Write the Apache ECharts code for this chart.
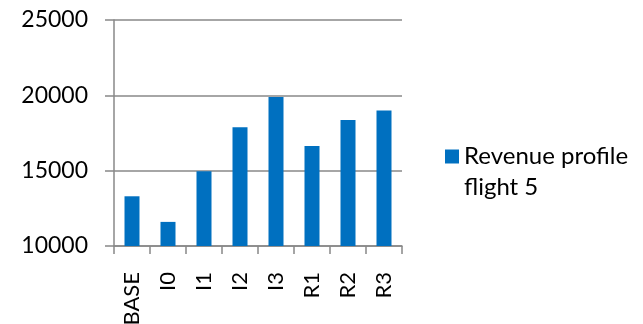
<!DOCTYPE html>
<html>
<head>
<meta charset="utf-8">
<script src="https://cdn.jsdelivr.net/npm/echarts@6/dist/echarts.min.js"></script>
<style>
  html, body { margin: 0; padding: 0; background: #fff; }
  #chart { width: 643px; height: 324px; }
</style>
</head>
<body>
<div id="chart"></div>
<script>
// Revenue per scenario for flight 5
const categories = ['BASE', 'I0', 'I1', 'I2', 'I3', 'R1', 'R2', 'R3'];
const revenue = [13300, 11600, 14960, 17880, 19890, 16640, 18370, 18990];
const seriesName = 'Revenue profile flight 5';
const yMin = 10000, yMax = 25000, yStep = 5000;

const FONT = 'Lato, "Open Sans", sans-serif';
const GRAY = '#888888';

const chart = echarts.init(document.getElementById('chart'), null, { renderer: 'canvas' });
chart.setOption({
  animation: false,
  backgroundColor: '#ffffff',
  grid: { left: 114, right: 241, top: 20, bottom: 78, containLabel: false, outerBoundsMode: 'none' },
  legend: {
    left: 445,
    top: 110,
    padding: 0,
    itemWidth: 14,
    itemHeight: 14,
    itemGap: 7,
    icon: 'rect',
    data: [seriesName],
    // a blank first line keeps the square level with "Revenue profile"
    formatter: () => '\nRevenue profile\nflight 5',
    textStyle: {
      fontFamily: FONT,
      fontSize: 24,
      color: '#000',
      lineHeight: 31
    }
  },
  xAxis: {
    type: 'category',
    data: categories,
    axisLine: { lineStyle: { color: GRAY, width: 1.5 } },
    axisTick: { show: true, length: 8, inside: false, lineStyle: { color: GRAY, width: 1.5 } },
    axisLabel: {
      rotate: 90,
      margin: 26,
      fontFamily: FONT,
      fontSize: 22,
      color: '#000'
    },
    splitLine: { show: false }
  },
  yAxis: {
    type: 'value',
    min: yMin,
    max: yMax,
    interval: yStep,
    axisLine: { show: true, lineStyle: { color: GRAY, width: 1.5 } },
    axisTick: { show: true, length: 9, lineStyle: { color: GRAY, width: 1.5 } },
    axisLabel: {
      margin: 26,
      fontFamily: FONT,
      fontSize: 23,
      color: '#000',
      formatter: (v) => String(v)
    },
    splitLine: { show: true, lineStyle: { color: GRAY, width: 1.5 } }
  },
  series: [{
    name: seriesName,
    type: 'bar',
    data: revenue,
    barWidth: 15,
    itemStyle: { color: '#0070C0' }
  }]
});
</script>
</body>
</html>
